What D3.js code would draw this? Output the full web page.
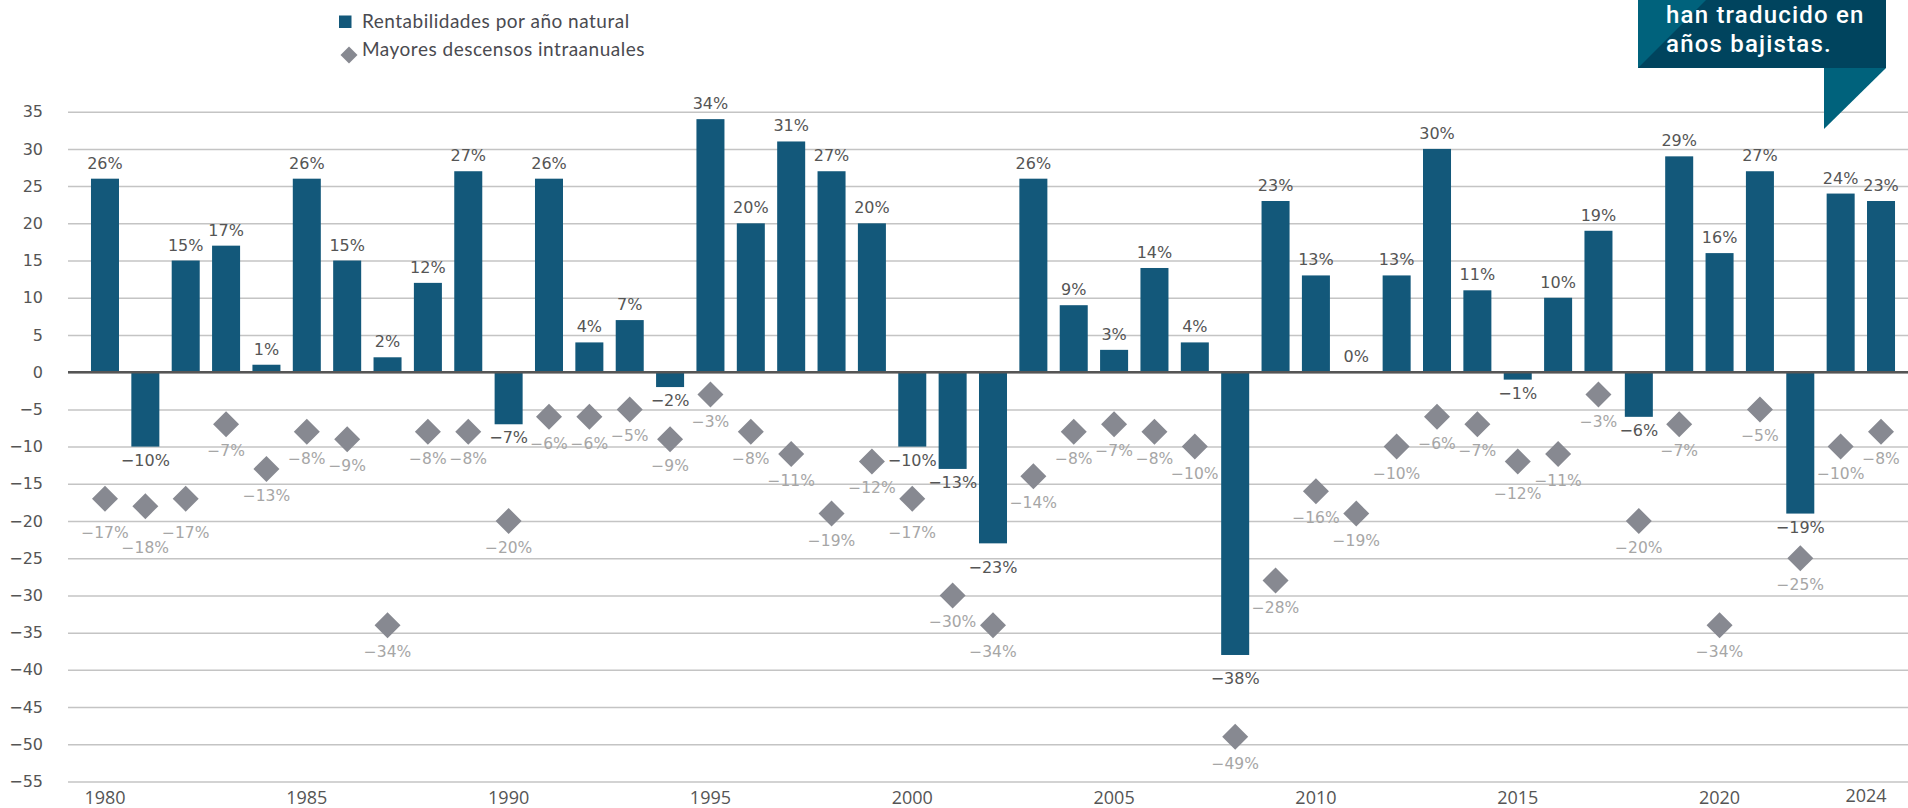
<!DOCTYPE html>
<html>
<head>
<meta charset="utf-8">
<script src="https://cdnjs.cloudflare.com/ajax/libs/d3/7.8.5/d3.min.js"></script>
<style>
  body { margin: 0; background: #fff; }
  svg { display: block; }
</style>
</head>
<body>
<div id="chart"></div>
<script>
// years on the x axis
var years = d3.range(1980, 2025);
// calendar year returns (%)
var returns = [26, -10, 15, 17, 1, 26, 15, 2, 12, 27,
               -7, 26, 4, 7, -2, 34, 20, 31, 27, 20,
               -10, -13, -23, 26, 9, 3, 14, 4, -38, 23,
               13, 0, 13, 30, 11, -1, 10, 19, -6, 29,
               16, 27, -19, 24, 23];
// largest intra-year declines (%)
var drawdowns = [-17, -18, -17, -7, -13, -8, -9, -34, -8, -8,
                 -20, -6, -6, -5, -9, -3, -8, -11, -19, -12,
                 -17, -30, -34, -14, -8, -7, -8, -10, -49, -28,
                 -16, -19, -10, -6, -7, -12, -11, -3, -20, -7,
                 -34, -5, -25, -10, -8];
var yTicks = d3.range(-55, 40, 5);
var xTickYears = [1980, 1985, 1990, 1995, 2000, 2005, 2010, 2015, 2020, 2024];
var legendLabels = ["Rentabilidades por año natural", "Mayores descensos intraanuales"];
var calloutLines = ["han traducido en", "años bajistas."];

var w = 1908, h = 808;
var barColor = "#13587a";
var diamondColor = "#878991";

var svg = d3.select("#chart").append("svg").attr("width", w).attr("height", h);

var xScale = d3.scaleBand().domain(years).range([84.8, 1901.2])
    .paddingInner(0.306).paddingOuter(0.153);
var yScale = d3.scaleLinear().domain([-55, 35]).range([781.5, 111.7]);

var minus = function(v) { return v < 0 ? "\u2212" + Math.abs(v) : "" + v; };

// gridlines + y labels
var yAxis = d3.axisLeft(yScale).tickValues(yTicks).tickSize(-(w - 68)).tickPadding(25)
    .tickFormat(minus);
var gy = svg.append("g").attr("transform", "translate(68,0)").call(yAxis);
gy.select(".domain").remove();
gy.selectAll(".tick line").attr("stroke", "#c4c4c4").attr("stroke-width", 1.5);
gy.selectAll(".tick text").attr("fill", "#555").style("font-family", "DejaVu Sans")
    .style("font-size", "16px");

// x labels
var xAxis = d3.axisBottom(xScale).tickValues(xTickYears).tickSize(0).tickPadding(10);
var gx = svg.append("g").attr("transform", "translate(0," + yScale(-55) + ")").call(xAxis);
gx.select(".domain").remove();
gx.selectAll(".tick text").attr("fill", "#555").style("font-family", "Open Sans")
    .style("font-size", "18px");
gx.selectAll(".tick").filter(function(d) { return d === 2024; }).select("text")
    .attr("x", -15).attr("y", 8);

// bars
var data = years.map(function(y, i) { return { year: y, ret: returns[i], dd: drawdowns[i] }; });

svg.append("g").selectAll("rect")
    .data(data)
    .enter()
    .append("rect")
    .attr("x", function(d) { return xScale(d.year); })
    .attr("width", xScale.bandwidth())
    .attr("y", function(d) { return yScale(Math.max(0, d.ret)); })
    .attr("height", function(d) { return Math.abs(yScale(d.ret) - yScale(0)); })
    .attr("fill", barColor);

// zero line
svg.append("line").attr("x1", 68).attr("x2", w)
    .attr("y1", yScale(0)).attr("y2", yScale(0))
    .attr("stroke", "#555").attr("stroke-width", 2.5);

// bar labels
var labelShift = { 2002: 11, 2008: 10 };
svg.append("g").selectAll("text")
    .data(data)
    .enter()
    .append("text")
    .attr("x", function(d) { return xScale(d.year) + xScale.bandwidth() / 2; })
    .attr("y", function(d) {
        if (d.ret >= 0) return yScale(d.ret) - 10;
        return yScale(d.ret) + 19 + (labelShift[d.year] || 0);
    })
    .attr("text-anchor", "middle")
    .attr("fill", "#555")
    .style("font-family", "DejaVu Sans").style("font-size", "16px")
    .text(function(d) { return minus(d.ret) + "%"; });

// diamonds
var diamond = d3.symbol().type(d3.symbolSquare).size(338);
svg.append("g").selectAll("path")
    .data(data)
    .enter()
    .append("path")
    .attr("d", diamond)
    .attr("transform", function(d) {
        return "translate(" + (xScale(d.year) + xScale.bandwidth() / 2) + "," + yScale(d.dd) + ") rotate(45)";
    })
    .attr("fill", diamondColor);

// a few labels sit lower in the original to stay clear of neighbours
var ddShift = { 1980: 7, 1981: 15, 1982: 7, 2000: 7, 2015: 6 };
svg.append("g").selectAll("text")
    .data(data)
    .enter()
    .append("text")
    .attr("x", function(d) { return xScale(d.year) + xScale.bandwidth() / 2; })
    .attr("y", function(d) { return yScale(d.dd) + 32 + (ddShift[d.year] || 0); })
    .attr("text-anchor", "middle")
    .attr("fill", "#a6a6a6")
    .style("font-family", "DejaVu Sans").style("font-size", "15.5px")
    .text(function(d) { return minus(d.dd) + "%"; });

// legend
var legend = svg.append("g");
legend.append("rect").attr("x", 339).attr("y", 15.5).attr("width", 12.5).attr("height", 12.5)
    .attr("fill", barColor);
legend.append("path").attr("d", d3.symbol().type(d3.symbolSquare).size(144))
    .attr("transform", "translate(349,55) rotate(45)").attr("fill", diamondColor);
legend.selectAll("text")
    .data(legendLabels)
    .enter()
    .append("text")
    .attr("x", 362)
    .attr("y", function(d, i) { return 28 + i * 28; })
    .attr("fill", "#4a4a50")
    .style("font-family", "Lato").style("font-size", "19px").style("letter-spacing", "0.5px")
    .text(function(d) { return d; });

// callout box top right
var callout = svg.append("g");
callout.append("rect").attr("x", 1638).attr("y", 0).attr("width", 248).attr("height", 68)
    .attr("fill", "#00445e");
callout.append("path").attr("d", "M1638,0 L1706,0 L1638,68 Z").attr("fill", "#00627c");
callout.append("path").attr("d", "M1824,68 L1886,68 L1824,129 Z").attr("fill", "#00627c");
callout.selectAll("text")
    .data(calloutLines)
    .enter()
    .append("text")
    .attr("x", 1666)
    .attr("y", function(d, i) { return 23 + i * 28.5; })
    .attr("fill", "#fff")
    .style("font-family", "Roboto").style("font-weight", "500").style("font-size", "24px")
    .style("letter-spacing", "1.2px")
    .text(function(d) { return d; });
</script>
</body>
</html>
